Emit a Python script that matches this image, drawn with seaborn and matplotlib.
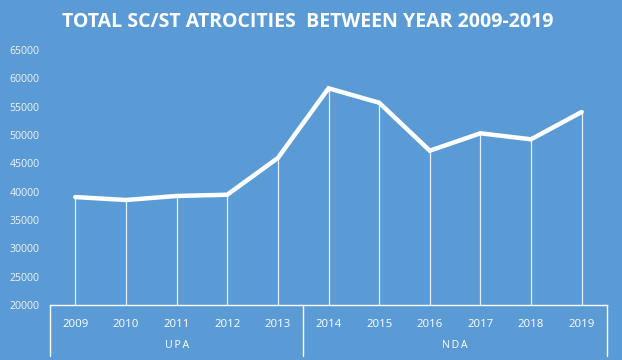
import matplotlib
matplotlib.use("Agg")
import matplotlib.pyplot as plt
import numpy as np
import pandas as pd
import seaborn as sns

years = ['2009', '2010', '2011', '2012', '2013', '2014', '2015', '2016', '2017', '2018', '2019']
totals = [39050, 38530, 39240, 39460, 45940, 58240, 55700, 47230, 50300, 49240, 54060]
groups = ['UPA', 'NDA']
group_sizes = [5, 6]
title = 'TOTAL SC/ST ATROCITIES  BETWEEN YEAR 2009-2019'

bg = '#5B9BD5'
sns.set_style('white')
plt.rcParams['font.family'] = ['Open Sans', 'DejaVu Sans']

df = pd.DataFrame({'pos': np.arange(len(years)), 'year': years, 'total': totals})

fig = plt.figure(figsize=(6.22, 3.6), dpi=100, facecolor=bg)
ax = fig.add_axes([50 / 622, 1 - 305 / 360, 557 / 622, 255 / 360])
ax.set_facecolor(bg)

# drop lines from each point down to the axis
ax.vlines(df['pos'], 20000, df['total'], color='white', lw=0.9, alpha=0.85, zorder=2)
sns.lineplot(data=df, x='pos', y='total', color='white', lw=3.2, ax=ax, zorder=3,
             solid_joinstyle='miter')

ax.set_xlim(-0.5, len(years) - 0.5)
ax.set_ylim(20000, 65000)
ax.set_yticks(range(20000, 65001, 5000))
ax.set_yticklabels([str(v) for v in range(20000, 65001, 5000)], color='#F2F2F2', fontsize=7.6)
ax.tick_params(axis='y', length=0, pad=7.5)
ax.set_xticks([])
ax.set_xlabel('')
ax.set_ylabel('')
for s in ['left', 'right', 'top']:
    ax.spines[s].set_visible(False)
ax.spines['bottom'].set_color('white')
ax.spines['bottom'].set_linewidth(1)

# two-level category axis: years, then government
tr = ax.get_xaxis_transform()
for p, y in zip(df['pos'], df['year']):
    ax.text(p, -0.075, y, transform=tr, ha='center', va='center', color='white', fontsize=8.2)
edges = np.concatenate([[0], np.cumsum(group_sizes)]) - 0.5
for e in edges:
    ax.plot([e, e], [0, -0.2], transform=tr, color='white', lw=1, clip_on=False)
for g, a, b in zip(groups, edges[:-1], edges[1:]):
    ax.text((a + b) / 2, -0.157, '\u2009'.join(g), transform=tr, ha='center', va='center',
            color='white', fontsize=7.6)

fig.text(0.494, 1 - 22 / 360, title, ha='center', va='center', color='white',
         fontsize=14, fontweight='bold')

fig.savefig('out.png', dpi=100, facecolor=bg)
